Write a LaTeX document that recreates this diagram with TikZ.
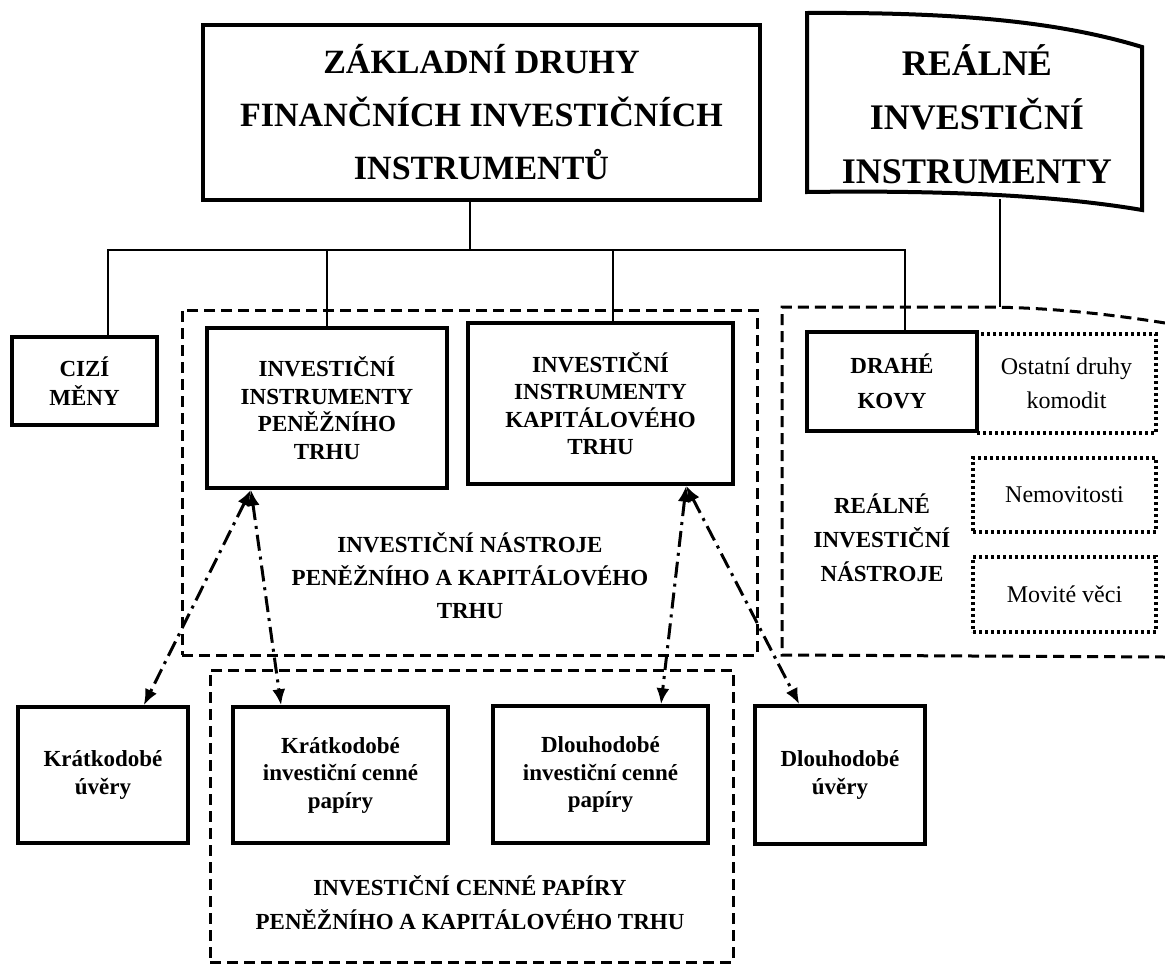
\documentclass[tikz,border=0pt]{standalone}
\usepackage{fontspec}
\setmainfont{Liberation Serif}
\usetikzlibrary{arrows.meta,calc}
\begin{document}
\begin{tikzpicture}[x=1pt,y=-1pt,
  box/.style={draw, line width=3.5pt, align=center, inner sep=0pt,
    font=\fontsize{23}{27.5}\selectfont\bfseries},
  dotbox/.style={draw, line width=3.5pt, dash pattern=on 3pt off 3pt, align=center, inner sep=0pt,
    font=\fontsize{24}{34}\selectfont},
  frame/.style={draw, line width=3pt, dash pattern=on 11pt off 6pt, inner sep=0pt},
  lbl/.style={align=center, inner sep=0pt, font=\fontsize{23}{33}\selectfont\bfseries},
  conn/.style={line width=2.5pt},
  dd/.style={line width=3pt, dash pattern=on 16pt off 6pt on 3pt off 6pt,
    {Latex[length=16pt,width=13pt]}-{Latex[length=16pt,width=13pt]}}
]
\useasboundingbox (0,0) rectangle (1165,967);

% top boxes
\node[box, line width=4pt, minimum width=557pt, minimum height=175pt,
  font=\fontsize{34}{53}\selectfont\bfseries] (fin) at (481.5,112.5)
  {ZÁKLADNÍ DRUHY\\FINANČNÍCH INVESTIČNÍCH\\INSTRUMENTŮ};
\node[align=center, inner sep=0pt, font=\fontsize{36}{54}\selectfont\bfseries] (real) at (977,114)
  {REÁLNÉ\\INVESTIČNÍ\\INSTRUMENTY};
\draw[line width=4pt] (807,13) .. controls (960,12) and (1060,22) .. (1142,47)
  -- (1142,210) .. controls (1060,196) and (950,190) .. (807,192) -- cycle;

% dashed frames
\node[frame, minimum width=575pt, minimum height=345pt] (reg1) at (469.5,482.5) {};
\node[frame, minimum width=523pt, minimum height=292pt] (reg3) at (471.5,816) {};
\draw[line width=3pt, dash pattern=on 11pt off 6pt]
  (1165,323) .. controls (1090,311) and (1030,307) .. (980,307) -- (782,307)
  -- (782,655) -- (1165,657);
\coordinate (r2) at (1000,307);

% second row
\node[box, minimum width=145pt, minimum height=88pt, font=\fontsize{23}{29}\selectfont\bfseries]
  (cizi) at (84.5,381) {CIZÍ\\MĚNY};
\node[box, minimum width=240pt, minimum height=160pt] (pen) at (327,408)
  {INVESTIČNÍ\\INSTRUMENTY\\PENĚŽNÍHO\\TRHU};
\node[box, minimum width=265pt, minimum height=161pt] (kap) at (600.5,403.5)
  {INVESTIČNÍ\\INSTRUMENTY\\KAPITÁLOVÉHO\\TRHU};
\node[dotbox, minimum width=179pt, minimum height=99pt] (ost) at (1066.5,383.5)
  {Ostatní druhy\\komodit};
\node[box, minimum width=170pt, minimum height=99pt, font=\fontsize{23}{35}\selectfont\bfseries]
  (drahe) at (892,381.5) {DRAHÉ\\KOVY};
\node[dotbox, minimum width=183pt, minimum height=74pt] (nem) at (1064.5,495) {Nemovitosti};
\node[dotbox, minimum width=183pt, minimum height=75pt] (mov) at (1064.5,594.5) {Movité věci};

\node[lbl] (lblA) at (470,576)
  {INVESTIČNÍ NÁSTROJE\\PENĚŽNÍHO A KAPITÁLOVÉHO\\TRHU};
\node[lbl, font=\fontsize{23}{34}\selectfont\bfseries] (lblB) at (882,538)
  {REÁLNÉ\\INVESTIČNÍ\\NÁSTROJE};

% bottom row
\node[box, minimum width=170pt, minimum height=136pt] (kuv) at (103,775) {Krátkodobé\\úvěry};
\node[box, minimum width=215pt, minimum height=136pt] (kcp) at (340.5,775)
  {Krátkodobé\\investiční cenné\\papíry};
\node[box, minimum width=215pt, minimum height=137pt] (dcp) at (600.5,774.5)
  {Dlouhodobé\\investiční cenné\\papíry};
\node[box, minimum width=170pt, minimum height=138pt] (duv) at (840,775) {Dlouhodobé\\úvěry};
\node[lbl, font=\fontsize{23}{34}\selectfont\bfseries] (lblC) at (470,903)
  {INVESTIČNÍ CENNÉ PAPÍRY\\PENĚŽNÍHO A KAPITÁLOVÉHO TRHU};

% tree connectors
\coordinate (top) at (470,250);
\coordinate (jL) at (108,250);
\coordinate (jK) at (613,250);
\coordinate (jR) at (905,250);
\draw[conn] (top |- fin.south) -- (top);
\draw[conn] (jL |- cizi.north) -- (jL) -- (jR) -- (jR |- drahe.north);
\draw[conn] (pen.north) -- (pen.north |- jL);
\draw[conn] (jK |- kap.north) -- (jK);
\coordinate (rb) at (1000,199);
\draw[conn] (rb) -- (r2);

% dash-dot arrows
\coordinate (pA) at ($(pen.south west)!0.1875!(pen.south east)$);
\coordinate (kA) at ($(kap.south west)!0.819!(kap.south east)$);
\draw[dd] (pA) -- ($(kuv.north west)!0.735!(kuv.north east)$);
\draw[dd] (pA) -- ($(kcp.north west)!0.228!(kcp.north east)$);
\draw[dd] (kA) -- ($(dcp.north west)!0.777!(dcp.north east)$);
\draw[dd] (kA) -- ($(duv.north west)!0.265!(duv.north east)$);
\end{tikzpicture}
\end{document}
